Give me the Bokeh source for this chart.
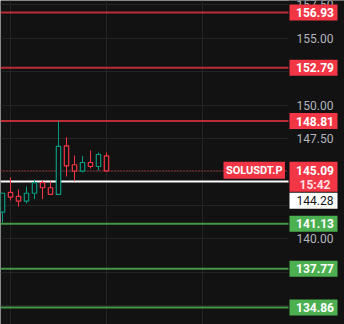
from bokeh.plotting import figure
from bokeh.models import Range1d, FixedTicker
from bokeh.core.properties import value
from bokeh.embed import file_html
from bokeh.resources import INLINE

# ---- data ----
opens  = [141.99, 143.47, 143.17, 142.82, 143.41, 144.21, 143.82, 143.32, 146.96, 145.54, 145.06, 145.71, 145.41, 146.21]
closes = [143.41, 143.12, 142.82, 143.41, 144.21, 143.82, 143.32, 146.91, 145.46, 145.06, 145.71, 145.41, 146.31, 145.09]
highs  = [143.45, 144.59, 143.69, 143.92, 144.44, 144.36, 144.29, 148.80, 147.60, 146.23, 146.21, 146.61, 146.46, 146.46]
lows   = [141.22, 142.87, 142.42, 142.64, 142.97, 142.97, 143.30, 143.30, 144.66, 144.31, 144.96, 145.26, 145.11, 145.02]

resistance_levels = [156.93, 152.79, 148.81]
support_levels = [141.13, 137.77, 134.86]
symbol = "SOLUSDT.P"
current_price = 145.09
countdown = "15:42"
mark_price = 144.28
tick_values = [157.5, 155.0, 150.0, 147.5, 140.0]
grid_values = [157.5, 155.0, 152.5, 150.0, 147.5, 145.0, 142.5, 140.0, 137.5, 135.0]
time_grid = [1, 13, 25]

# ---- layout / style ----
W, H = 344, 324
BAR_PX = 8.0
X0 = -0.25
Y_TOP, Y_BOT = 157.83, 133.59
SCALE = H / (Y_TOP - Y_BOT)  # px per price unit

BG = "#121212"
GRID = "#242424"
RED = "#f23645"
GREEN_C = "#089981"
GREEN_L = "#4caf50"
FONT = value("Roboto")


def xpx(px):
    return X0 + px / BAR_PX


def dy(px):
    return px / SCALE


p = figure(width=W, height=H, output_backend="svg", toolbar_location=None,
           x_range=Range1d(X0, X0 + W / BAR_PX), y_range=Range1d(Y_BOT, Y_TOP),
           x_axis_location=None, y_axis_location=None, min_border=0,
           background_fill_color=BG, border_fill_color=BG, outline_line_color=None)
p.xgrid.ticker = FixedTicker(ticks=time_grid)
p.ygrid.ticker = FixedTicker(ticks=grid_values)
p.xgrid.grid_line_color = GRID
p.ygrid.grid_line_color = GRID

axis_left = xpx(288)

# cover the price-scale column
p.quad(left=[axis_left], right=[X0 + W / BAR_PX], bottom=[Y_BOT], top=[Y_TOP],
       fill_color=BG, line_color=None)

# level lines
for lv in resistance_levels:
    p.segment(x0=[X0], x1=[axis_left], y0=[lv], y1=[lv], line_color=RED, line_alpha=0.75, line_width=2)
for lv in support_levels:
    p.segment(x0=[X0], x1=[axis_left], y0=[lv], y1=[lv], line_color=GREEN_L, line_alpha=0.85, line_width=2)

# current price dotted line and mark price line
p.segment(x0=[X0], x1=[axis_left], y0=[current_price], y1=[current_price],
          line_color=RED, line_dash="1 2", line_width=1)
p.segment(x0=[X0], x1=[axis_left], y0=[mark_price], y1=[mark_price],
          line_color="#ffffff", line_width=2)

# candles
xs = list(range(len(opens)))
colors = [GREEN_C if c >= o else RED for o, c in zip(opens, closes)]
p.segment(x0=xs, x1=xs, y0=highs, y1=lows, line_color=colors, line_width=1)
p.vbar(x=xs, width=0.55, top=[max(o, c) for o, c in zip(opens, closes)],
       bottom=[min(o, c) for o, c in zip(opens, closes)],
       fill_color=BG, line_color=colors, line_width=1.2)

# tick labels in the price column
lab_cx = xpx(314.5)
p.text(x=[lab_cx] * len(tick_values), y=tick_values, text=["%.2f" % t for t in tick_values],
       text_align="center", text_baseline="middle", text_font=FONT,
       text_font_size="12px", text_color="#b2b5be")

# level boxes
bl, br = xpx(289), xpx(337)
levels = resistance_levels + support_levels
lcolors = [RED] * len(resistance_levels) + [GREEN_L] * len(support_levels)
p.quad(left=[bl] * len(levels), right=[br] * len(levels),
       top=[v + dy(8) for v in levels], bottom=[v - dy(8) for v in levels],
       fill_color=lcolors, line_color=None)
p.text(x=[lab_cx] * len(levels), y=levels, text=["%.2f" % v for v in levels],
       text_align="center", text_baseline="middle", text_font=FONT,
       text_font_size="12px", text_font_style="bold", text_color="#ffffff")

# current price box (two lines)
cp_top = current_price + dy(9)
cp_bot = current_price - dy(21)
p.quad(left=[bl], right=[br], top=[cp_top], bottom=[cp_bot], fill_color=RED, line_color=None)
p.text(x=[lab_cx], y=[current_price], text=["%.2f" % current_price], text_align="center",
       text_baseline="middle", text_font=FONT, text_font_size="12px",
       text_font_style="bold", text_color="#ffffff")
p.text(x=[lab_cx], y=[current_price - dy(14)], text=[countdown], text_align="center",
       text_baseline="middle", text_font=FONT, text_font_size="12px",
       text_font_style="bold", text_color="#ffe0e3")

# symbol box
sl, sr = xpx(223), xpx(284.5)
p.quad(left=[sl], right=[sr], top=[cp_top], bottom=[current_price - dy(8)],
       fill_color=RED, line_color=None)
p.text(x=[(sl + sr) / 2], y=[current_price + dy(0.5)], text=[symbol], text_align="center",
       text_baseline="middle", text_font=FONT, text_font_size="11px",
       text_font_style="bold", text_color="#ffffff")

# mark price box (pushed below the current price box)
mp_top = cp_bot - dy(1)
mp_bot = mp_top - dy(16)
p.quad(left=[bl], right=[br], top=[mp_top], bottom=[mp_bot], fill_color="#ffffff", line_color=None)
p.text(x=[lab_cx], y=[(mp_top + mp_bot) / 2], text=["%.2f" % mark_price], text_align="center",
       text_baseline="middle", text_font=FONT, text_font_size="12px", text_color="#131313")

open("out.html", "w").write(file_html(p, INLINE))
